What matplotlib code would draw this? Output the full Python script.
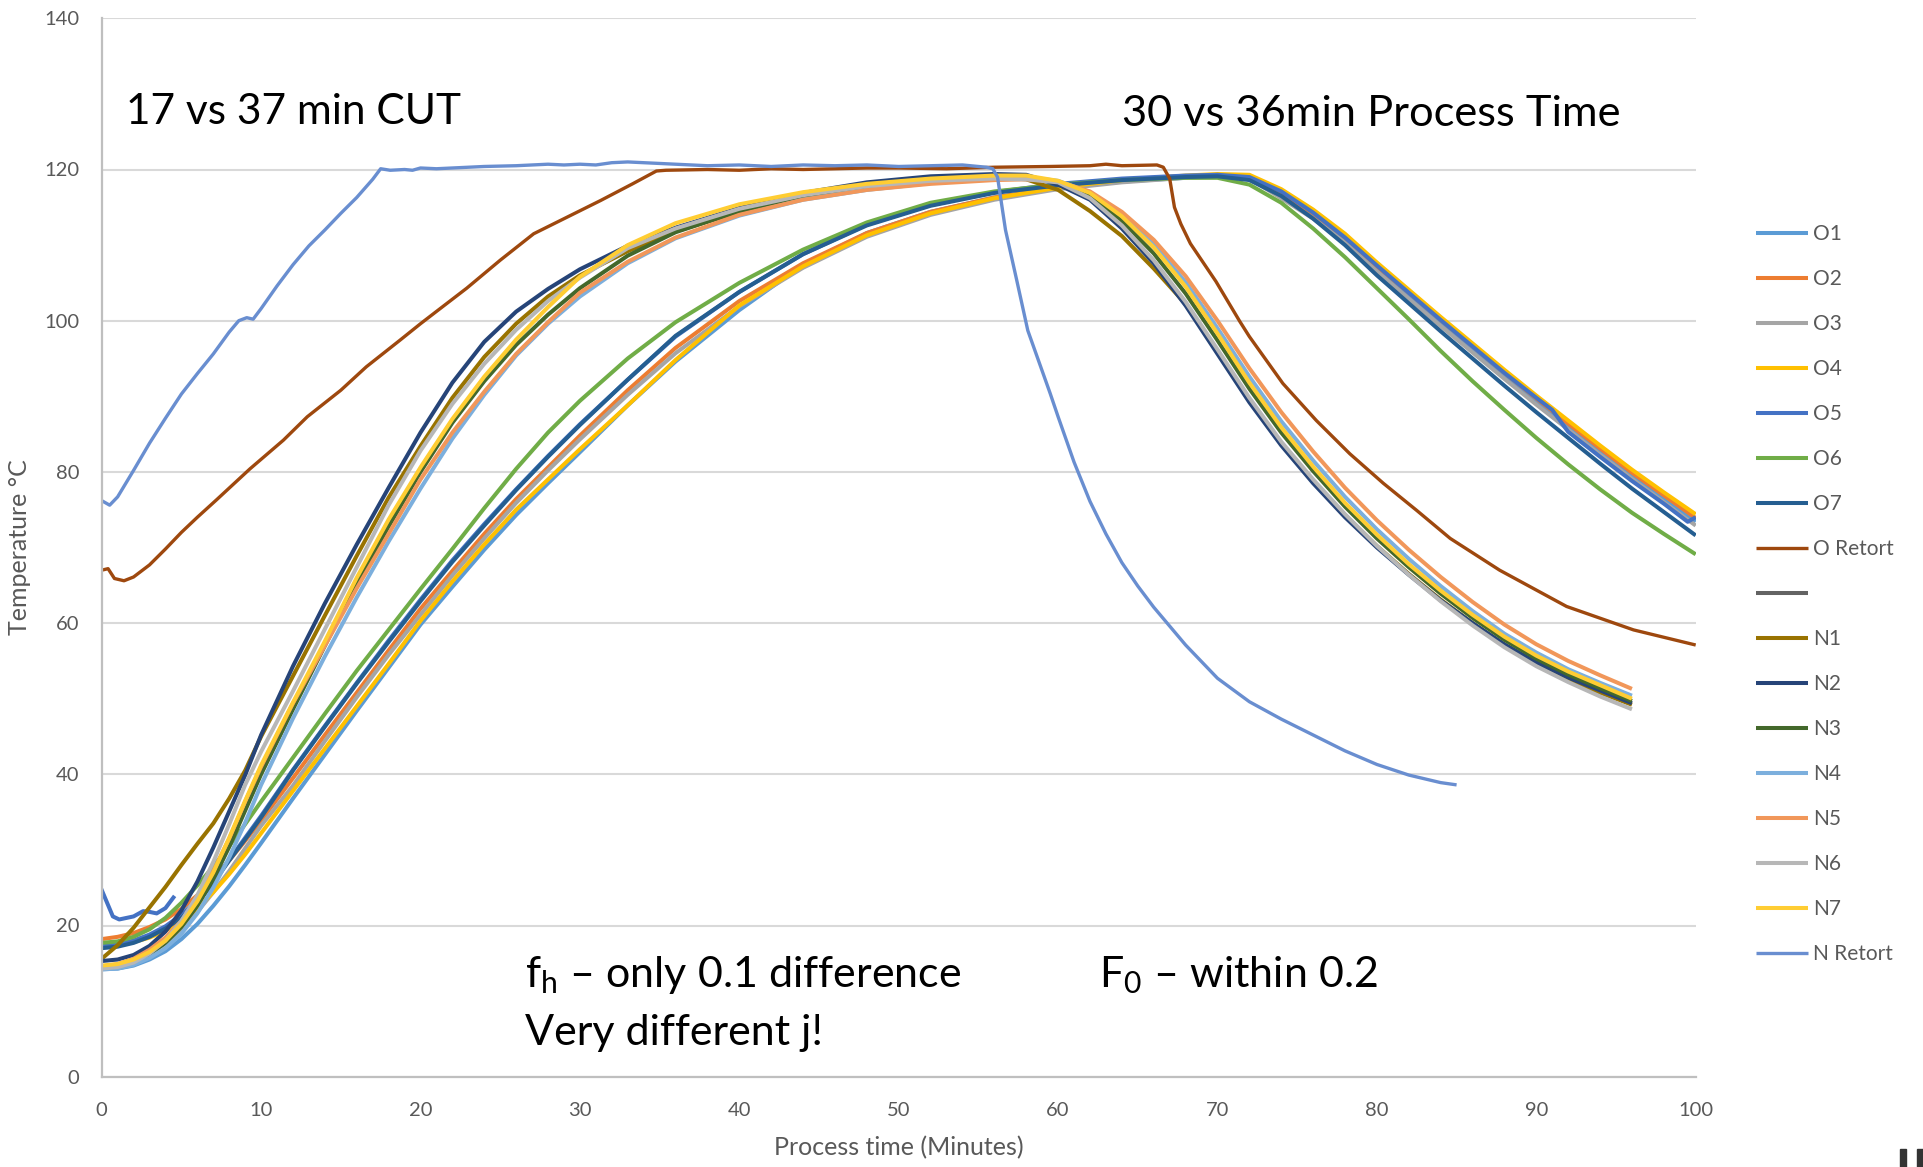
import matplotlib
matplotlib.use("Agg")
import matplotlib.pyplot as plt
from matplotlib.patches import Rectangle

plt.rcParams['font.family'] = ['Lato', 'DejaVu Sans']
plt.rcParams['mathtext.fontset'] = 'custom'
plt.rcParams['mathtext.rm'] = 'Lato'

# time grids (minutes)
t_n = [0, 1, 2, 3, 4, 5, 6, 7, 8, 9, 10, 12, 14, 16, 18, 20, 22, 24, 26, 28, 30,
       33, 36, 40, 44, 48, 52, 56, 58, 60, 62, 64, 66, 68, 70, 72, 74, 76, 78,
       80, 82, 84, 86, 88, 90, 92, 94, 96]
t_o = [0, 1, 2, 3, 4, 5, 6, 7, 8, 9, 10, 12, 14, 16, 18, 20, 22, 24, 26, 28, 30,
       33, 36, 40, 44, 48, 52, 56, 60, 64, 68, 70, 72, 74, 76, 78, 80, 82, 84,
       86, 88, 90, 92, 94, 96, 98, 100]
t_o5 = [0, 1, 2, 3, 4, 5, 6, 7, 8, 9, 10, 12, 14, 16, 18, 20, 22, 24, 26, 28, 30,
        33, 36, 40, 44, 48, 52, 56, 60, 64, 68, 70, 72, 74, 76, 78, 80, 82, 84,
        86, 88, 90, 91, 92, 94, 96, 98, 99.5, 100]

# old process probes
o1 = [14.2, 14.3, 14.7, 15.5, 16.6, 18.2, 20.2, 22.6, 25.2, 28.0, 30.9,
      36.8, 42.6, 48.4, 54.1, 59.8, 64.8, 69.7, 74.3, 78.5, 82.6,
      88.8, 94.6, 101.4, 107.4, 111.6, 114.4, 116.3, 117.5, 118.4, 118.9,
      119.1, 119.0, 116.8, 113.9, 110.6, 106.8, 103.2, 99.6, 96.1, 92.6, 89.2, 85.9, 82.6, 79.4, 76.4, 73.4]
o2 = [18.2, 18.5, 19.0, 19.8, 20.8, 22.2, 24.0, 26.2, 28.6, 31.2, 33.9,
      39.5, 45.2, 50.8, 56.4, 61.9, 66.9, 71.8, 76.4, 80.6, 84.8,
      90.8, 96.4, 102.6, 107.6, 111.6, 114.4, 116.3, 117.6, 118.5, 119.0,
      119.1, 119.0, 116.9, 114.2, 111.0, 107.2, 103.7, 100.1, 96.6, 93.1, 89.7, 86.4, 83.1, 79.9, 76.9, 73.9]
o3 = [14.4, 14.6, 15.2, 16.2, 17.6, 19.5, 21.8, 24.4, 27.2, 30.2, 33.2,
      38.5, 44.4, 50.2, 55.8, 61.1, 66.3, 71.2, 75.9, 80.2, 84.3,
      90.2, 95.7, 101.9, 107.0, 111.1, 114.0, 116.0, 117.4, 118.3, 118.9,
      119.0, 118.8, 116.2, 113.5, 110.3, 106.5, 102.9, 99.3, 95.8, 92.3, 88.9, 85.6, 82.3, 79.1, 76.0, 72.9]
o4 = [17.4, 17.5, 17.8, 18.4, 19.3, 20.6, 22.3, 24.4, 26.8, 29.4, 32.2,
      37.8, 43.4, 49.0, 54.6, 60.3, 65.5, 70.4, 75.0, 79.0, 83.0,
      88.8, 94.8, 102.0, 107.2, 111.3, 114.2, 116.2, 117.6, 118.6, 119.2,
      119.4, 119.3, 117.4, 114.7, 111.5, 107.7, 104.1, 100.5, 97.0, 93.5, 90.1, 86.8, 83.5, 80.3, 77.3, 74.4]
o5 = [17.3, 17.5, 18.0, 18.8, 19.9, 21.4, 23.4, 25.9, 28.7, 31.6, 34.5,
      40.6, 46.4, 52.1, 57.7, 63.1, 68.3, 73.1, 77.7, 82.1, 86.3,
      92.2, 97.9, 103.8, 108.8, 112.7, 115.3, 117.0, 118.1, 118.8, 119.2,
      119.3, 119.0, 117.1, 114.3, 111.0, 107.3, 103.7, 100.1, 96.6, 93.1, 89.8,
      88.2, 85.3, 82.0, 78.8, 75.8, 73.4, 74.0]
o6 = [17.7, 17.9, 18.5, 19.5, 21.0, 23.0, 25.3, 27.8, 30.5, 33.4, 36.4,
      42.2, 48.0, 53.7, 59.1, 64.5, 69.8, 75.2, 80.4, 85.2, 89.4,
      95.0, 99.8, 105.0, 109.4, 113.0, 115.6, 117.1, 118.0, 118.6, 118.9,
      118.9, 118.0, 115.6, 112.2, 108.4, 104.3, 100.2, 96.0, 92.0, 88.2, 84.5, 81.0, 77.7, 74.6, 71.8, 69.1]
o7 = [17.0, 17.2, 17.7, 18.5, 19.6, 21.0, 23.0, 25.6, 28.6, 31.4, 34.3,
      40.5, 46.3, 52.0, 57.5, 62.9, 68.1, 72.9, 77.6, 82.0, 86.2,
      92.2, 98.0, 103.8, 108.8, 112.6, 115.2, 116.9, 117.9, 118.6, 119.0,
      119.1, 118.6, 116.5, 113.5, 110.0, 106.0, 102.3, 98.6, 95.0, 91.4, 87.9, 84.5, 81.1, 77.8, 74.7, 71.6]

# stray readings logged on the O5 channel at start-up
t_o5_start = [0, 0.7, 1.1, 2.0, 2.6, 3.0, 3.45, 4.0, 4.5]
o5_start = [24.7, 21.2, 20.8, 21.2, 21.9, 21.8, 21.6, 22.3, 23.7]

t_oret = [0, 0.4, 0.8, 1.4, 2, 3, 4, 5, 6, 7.2, 9.3, 11.4, 12.9, 15, 16.6, 18.7, 20, 20.8,
          22.9, 25, 27.1, 29.2, 31.3, 33.3, 34.8, 35.4, 38, 40, 42, 44, 46, 48, 50, 53, 56,
          59.5, 62, 63, 64, 66.2, 66.6, 67.0, 67.3, 67.7, 68.3, 69.9, 71.4, 72, 74.1, 76.2,
          78.3, 80.4, 82.5, 84.6, 87.7, 91.9, 96.1, 100]
o_retort = [67.0, 67.2, 65.9, 65.6, 66.1, 67.7, 69.8, 72.0, 74.0, 76.3, 80.4, 84.2, 87.3, 90.8,
            93.9, 97.4, 99.6, 100.9, 104.3, 108.0, 111.5, 113.7, 115.9, 118.1, 119.8, 119.9,
            120.0, 119.9, 120.1, 120.0, 120.1, 120.2, 120.2, 120.1, 120.3, 120.4, 120.5, 120.7,
            120.5, 120.6, 120.3, 118.8, 115.0, 112.8, 110.2, 105.2, 99.9, 97.9, 91.7, 86.8,
            82.4, 78.5, 74.9, 71.2, 67.0, 62.2, 59.1, 57.1]

# new process probes
n1 = [15.6, 17.4, 19.7, 22.4, 25.1, 28.0, 30.8, 33.5, 36.8, 40.5, 45.0,
      53.0, 61.0, 68.9, 76.6, 83.4, 89.8, 95.2, 99.6, 103.2, 106.0,
      109.2, 111.8, 114.4, 116.4, 117.8, 118.6, 119.0, 118.7,
      117.3, 114.5, 111.2, 106.9, 102.2, 96.0, 89.6, 83.8, 78.8, 74.3, 70.2, 66.5, 63.1,
      60.0, 57.1, 54.6, 52.5, 50.8, 49.2]
n2 = [15.3, 15.5, 16.1, 17.3, 19.2, 22.0, 25.8, 30.3, 35.1, 39.9, 45.2,
      54.3, 62.6, 70.4, 77.9, 85.2, 91.8, 97.2, 101.2, 104.2, 106.8,
      109.9, 112.3, 114.9, 116.9, 118.3, 119.1, 119.4, 119.3,
      118.0, 116.0, 112.2, 107.6, 102.0, 95.6, 89.2, 83.5, 78.5, 74.0, 70.0, 66.4, 63.0,
      60.0, 57.2, 54.8, 52.8, 51.1, 49.4]
n3 = [14.4, 14.6, 15.2, 16.2, 17.7, 19.8, 22.6, 26.1, 30.4, 35.2, 40.0,
      48.6, 57.0, 65.2, 72.8, 80.0, 86.5, 92.0, 96.8, 100.8, 104.3,
      108.6, 111.7, 114.5, 116.4, 117.6, 118.4, 118.9, 119.0,
      118.3, 116.5, 113.2, 108.9, 103.6, 97.4, 91.0, 85.2, 80.1, 75.4, 71.2, 67.4, 63.9,
      60.7, 57.8, 55.3, 53.2, 51.4, 49.7]
n4 = [14.2, 14.3, 14.8, 15.7, 17.0, 18.9, 21.6, 25.0, 29.0, 33.6, 38.6,
      47.4, 55.6, 63.4, 70.8, 77.8, 84.4, 90.2, 95.4, 99.6, 103.2,
      107.6, 110.9, 113.9, 116.0, 117.3, 118.2, 118.8, 119.0,
      118.5, 117.0, 114.1, 110.1, 105.1, 99.0, 92.6, 86.7, 81.5, 76.7, 72.4, 68.5, 64.9,
      61.6, 58.6, 56.1, 53.9, 52.1, 50.4]
n5 = [14.6, 14.9, 15.6, 16.8, 18.4, 20.6, 23.5, 27.2, 31.5, 36.4, 41.0,
      49.4, 57.0, 64.6, 71.8, 79.0, 85.2, 90.6, 95.6, 99.8, 103.7,
      107.8, 111.0, 114.0, 116.0, 117.3, 118.1, 118.6, 118.7,
      118.4, 117.1, 114.4, 110.7, 105.9, 100.0, 93.7, 87.9, 82.7, 77.9, 73.6, 69.7, 66.1,
      62.8, 59.8, 57.2, 55.0, 53.1, 51.3]
n6 = [14.3, 14.5, 15.1, 16.3, 18.0, 20.6, 24.0, 28.4, 33.4, 38.6, 43.0,
      51.0, 59.2, 67.4, 75.6, 82.8, 89.0, 94.3, 98.8, 102.6, 105.7,
      109.6, 112.2, 114.8, 116.6, 117.8, 118.5, 118.8, 118.7,
      118.3, 116.2, 112.6, 108.0, 102.5, 96.2, 89.8, 84.0, 79.0, 74.4, 70.2, 66.4, 62.9,
      59.7, 56.8, 54.3, 52.2, 50.3, 48.6]
n7 = [14.7, 14.9, 15.5, 16.5, 18.0, 20.2, 23.2, 27.0, 31.6, 36.5, 41.2,
      49.5, 57.6, 66.0, 73.7, 80.6, 87.0, 92.6, 97.5, 101.8, 105.8,
      110.0, 112.9, 115.4, 117.0, 118.1, 118.8, 119.2, 119.2,
      118.5, 116.9, 113.8, 109.7, 104.5, 98.3, 91.8, 85.9, 80.7, 75.9, 71.7, 67.8, 64.3,
      61.1, 58.2, 55.7, 53.6, 51.8, 50.0]

t_nret = [0, 0.5, 1, 2, 3, 4, 5, 6, 7, 8, 8.6, 9.1, 9.5, 10, 11, 12, 13, 14, 15, 16, 17,
          17.5, 18.1, 19, 19.5, 20, 21, 22, 24, 26, 28, 29, 30, 31, 32, 33, 34, 36, 38, 40,
          42, 44, 46, 48, 50, 52, 54, 55.5, 55.9, 56.2, 56.7, 57.4, 58.1, 59.5, 60, 61, 62,
          63, 64, 65, 66, 67, 68, 70, 72, 74, 76, 78, 80, 82, 84, 85]
n_retort = [76.2, 75.6, 76.7, 80.2, 83.8, 87.1, 90.3, 93.0, 95.6, 98.5, 100.0, 100.4, 100.2,
            101.6, 104.6, 107.4, 109.9, 112.0, 114.2, 116.3, 118.7, 120.1, 119.9, 120.0,
            119.9, 120.2, 120.1, 120.2, 120.4, 120.5, 120.7, 120.6, 120.7, 120.6, 120.9,
            121.0, 120.9, 120.7, 120.5, 120.6, 120.4, 120.6, 120.5, 120.6, 120.4, 120.5,
            120.6, 120.3, 120.1, 119.0, 112.0, 105.4, 98.7, 90.4, 87.3, 81.3, 76.1, 71.8,
            68.0, 64.9, 62.1, 59.6, 57.1, 52.7, 49.6, 47.3, 45.2, 43.1, 41.3, 39.9, 38.9, 38.6]

series = [
    ("O1", t_o, o1, "#5B9BD5"),
    ("O2", t_o, o2, "#ED7D31"),
    ("O3", t_o, o3, "#A5A5A5"),
    ("O4", t_o, o4, "#FFC000"),
    ("O5", t_o5, o5, "#4472C4"),
    ("O6", t_o, o6, "#70AD47"),
    ("O7", t_o, o7, "#255E91"),
    ("O Retort", t_oret, o_retort, "#9E480E"),
    (" ", [], [], "#636363"),
    ("N1", t_n, n1, "#997300"),
    ("N2", t_n, n2, "#264478"),
    ("N3", t_n, n3, "#43682B"),
    ("N4", t_n, n4, "#7CAFDD"),
    ("N5", t_n, n5, "#F1975A"),
    ("N6", t_n, n6, "#B7B7B7"),
    ("N7", t_n, n7, "#FFCD33"),
    ("N Retort", t_nret, n_retort, "#698ED0"),
]

W, H = 1923, 1167
fig = plt.figure(figsize=(W / 100, H / 100), dpi=100)
ax = fig.add_axes([101.7 / W, 1 - 1076.7 / H, (1695.7 - 101.7) / W, (1076.7 - 18.3) / H])

for label, t, temp, color in series:
    lw = 2.4 if "Retort" in label else 2.9
    ax.plot(t, temp, color=color, lw=lw, label=label, solid_capstyle="butt")
    if label == "O5":
        ax.plot(t_o5_start, o5_start, color=color, lw=lw, label="_nolegend_")

ax.set_xlim(0, 100)
ax.set_ylim(0, 140)
ax.set_xticks(range(0, 101, 10))
ax.set_yticks(range(0, 141, 20))
ax.yaxis.grid(True, color="#D9D9D9", lw=1.5)
ax.set_axisbelow(True)
for side in ("top", "right"):
    ax.spines[side].set_visible(False)
for side in ("left", "bottom"):
    ax.spines[side].set_color("#BFBFBF")
    ax.spines[side].set_linewidth(1.6)
ax.tick_params(axis="both", length=0, labelsize=14.5, labelcolor="#595959")
ax.tick_params(axis="y", pad=16)
ax.tick_params(axis="x", pad=18.5)

ax.set_xlabel("Process time (Minutes)", fontsize=18, color="#595959")
ax.set_ylabel("Temperature °C", fontsize=18, color="#595959")
ax.xaxis.set_label_coords(0.5, -(1148 - 1076.7) / 1058.4)
ax.xaxis.label.set_va("center")
ax.yaxis.set_label_coords(-(101.7 - 19.6) / 1594, 0.5)
ax.yaxis.label.set_va("center")

ax.legend(loc="upper left", bbox_to_anchor=(1756 / W, 1 - 224 / H),
          bbox_transform=fig.transFigure, frameon=False, fontsize=15,
          labelcolor="#595959", handlelength=2.5, handletextpad=0.25,
          labelspacing=1.2, borderpad=0, borderaxespad=0)

def note(x, y, s, size=31):
    fig.text(x / W, 1 - y / H, s, fontsize=size, color="black", va="baseline", ha="left")

note(126, 124, "17 vs 37 min CUT", 30.5)
note(1122, 126, "30 vs 36min Process Time", 31.2)
note(525, 987, r"f$_\mathregular{h}$ – only 0.1 difference")
note(525, 1045, "Very different j!")
note(1099, 987, r"F$_\mathregular{0}$ – within 0.2")

# corner mark
for x0, x1 in ((1900, 1905.7), (1917.3, 1923)):
    fig.patches.append(Rectangle((x0 / W, 0), (x1 - x0) / W, (1167 - 1149.3) / H,
                                 transform=fig.transFigure, color="#333333"))

fig.savefig("out.png", dpi=100)
